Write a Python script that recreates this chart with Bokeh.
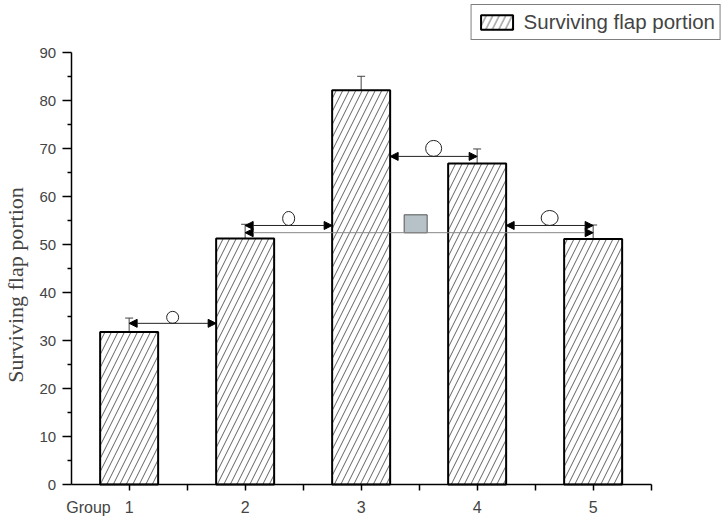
from bokeh.plotting import figure
from bokeh.models import (Range1d, FixedTicker, ColumnDataSource, Whisker, TeeHead,
                          Arrow, NormalHead, Legend, LegendItem, LinearAxis)
from bokeh.embed import file_html
from bokeh.resources import INLINE

# ---- data ----
groups = [1, 2, 3, 4, 5]
values = [31.8, 51.3, 82.2, 66.9, 51.2]
errors = [2.9, 2.95, 2.9, 3.05, 2.9]
y_ticks = [0, 10, 20, 30, 40, 50, 60, 70, 80, 90]
x_title = "Group"
x_title_pos = 0.65

# comparisons (from group, to group, height of arrow line)
comp_from = [1, 2, 3, 4, 2]
comp_to = [2, 3, 4, 5, 5]
comp_y = [33.6, 54.0, 68.4, 54.0, 52.5]
comp_start_anchor = ["center", "center", "edge", "edge", "center"]
comp_end_anchor = ["edge", "edge", "center", "center", "center"]

BAR_W = 0.5

src = ColumnDataSource(dict(
    x=groups, top=values,
    upper=[v + e for v, e in zip(values, errors)],
    lower=[v - e for v, e in zip(values, errors)],
))

p = figure(width=725, height=520, output_backend="svg", toolbar_location=None,
           x_range=Range1d(-0.109, 6.141), y_range=Range1d(-7.5, 100.9),
           min_border_left=0, min_border_right=0, min_border_top=0, min_border_bottom=0,
           x_axis_location=None, y_axis_location=None)
p.grid.visible = False
p.outline_line_color = None
p.background_fill_color = "white"
p.border_fill_color = "white"

# bars
r = p.vbar(x="x", top="top", width=BAR_W, source=src, fill_color="white",
           line_color="black", line_width=2, hatch_pattern="/", hatch_scale=13,
           hatch_weight=0.8, hatch_color="#3a3a3a")

# error bars
p.add_layout(Whisker(source=src, base="x", upper="upper", lower="lower",
                     line_color="#444444", line_width=1,
                     upper_head=TeeHead(size=8, line_color="#444444", line_width=1),
                     lower_head=TeeHead(size=8, line_color="#444444", line_width=1)))

# comparison arrows
def anchor_x(g, other, kind):
    if kind == "center":
        return g
    return g + (BAR_W / 2 if other > g else -BAR_W / 2)

cx, cy = [], []
for i, (a, b, yv) in enumerate(zip(comp_from, comp_to, comp_y)):
    xs = anchor_x(a, b, comp_start_anchor[i])
    xe = anchor_x(b, a, comp_end_anchor[i])
    long_line = (b - a) > 1
    p.add_layout(Arrow(x_start=xs, y_start=yv, x_end=xe, y_end=yv,
                       line_color="#888888" if long_line else "#222222", line_width=1,
                       start=NormalHead(size=8, fill_color="black", line_color="black", line_width=1),
                       end=NormalHead(size=8, fill_color="black", line_color="black", line_width=1)))
    if long_line:
        p.rect(x=[(a + b) / 2 - 0.03], y=[yv + 1.85], width=23, height=18,
               width_units="screen", height_units="screen",
               fill_color="#b6c2c7", line_color="#555555", line_width=1)
    else:
        cx.append((xs + xe) / 2)
        cy.append(yv)

ell_w = [12, 12, 16, 17]
ell_h = [12, 14, 16, 15]
p.ellipse(x=cx, y=[c + h / 2 / 4.8 for c, h in zip(cy, ell_h)], width=ell_w, height=ell_h,
          width_units="screen", height_units="screen",
          fill_color="white", line_color="#222222", line_width=1)

# x axis placed at y = 0 ("Group" shown as an extra label without a tick mark)
xa = LinearAxis(fixed_location=0)
p.add_layout(xa, "below")
xa.ticker = FixedTicker(ticks=[x_title_pos] + groups,
                        minor_ticks=sorted(groups + [g + 0.5 for g in groups]))
xa.major_label_overrides = {**{x_title_pos: x_title}, **{g: str(g) for g in groups}}
xa.bounds = (0.5, 5.5)
xa.axis_line_width = 1.5
xa.major_tick_line_color = None
xa.major_tick_out = 6
xa.major_tick_in = 0
xa.minor_tick_line_width = 1.5
xa.minor_tick_out = 6
xa.minor_tick_in = 0
xa.major_label_text_font = "Liberation Sans"
xa.major_label_text_font_size = "16px"
xa.major_label_standoff = 8

# y axis placed at x = 0.5
ya = LinearAxis(fixed_location=0.5)
p.add_layout(ya, "left")
ya.ticker = FixedTicker(ticks=y_ticks, minor_ticks=[t + 5 for t in y_ticks[:-1]])
ya.bounds = (0, 90)
ya.axis_line_width = 1.5
ya.major_tick_line_width = 1.5
ya.minor_tick_line_width = 1.5
ya.major_tick_out = 9
ya.major_tick_in = 0
ya.minor_tick_out = 4
ya.minor_tick_in = 0
ya.major_label_text_font = "Liberation Sans"
ya.major_label_text_font_size = "15px"
ya.major_label_standoff = 6
ya.axis_label = "Surviving flap portion" + "\u00a0" * 6
ya.axis_label_text_font = "Liberation Serif"
ya.axis_label_text_font_style = "normal"
ya.axis_label_text_font_size = "22px"
ya.axis_label_standoff = 9

legend = Legend(items=[LegendItem(label="Surviving flap portion", renderers=[r])],
                location="top_right", margin=4, padding=5, spacing=0,
                glyph_width=40, glyph_height=18, label_standoff=7,
                label_text_font="Liberation Sans", label_text_font_size="20.5px",
                border_line_color="black", border_line_width=1.5,
                background_fill_color="white", background_fill_alpha=1)
p.add_layout(legend)

open("out.html", "w").write(file_html(p, INLINE))
